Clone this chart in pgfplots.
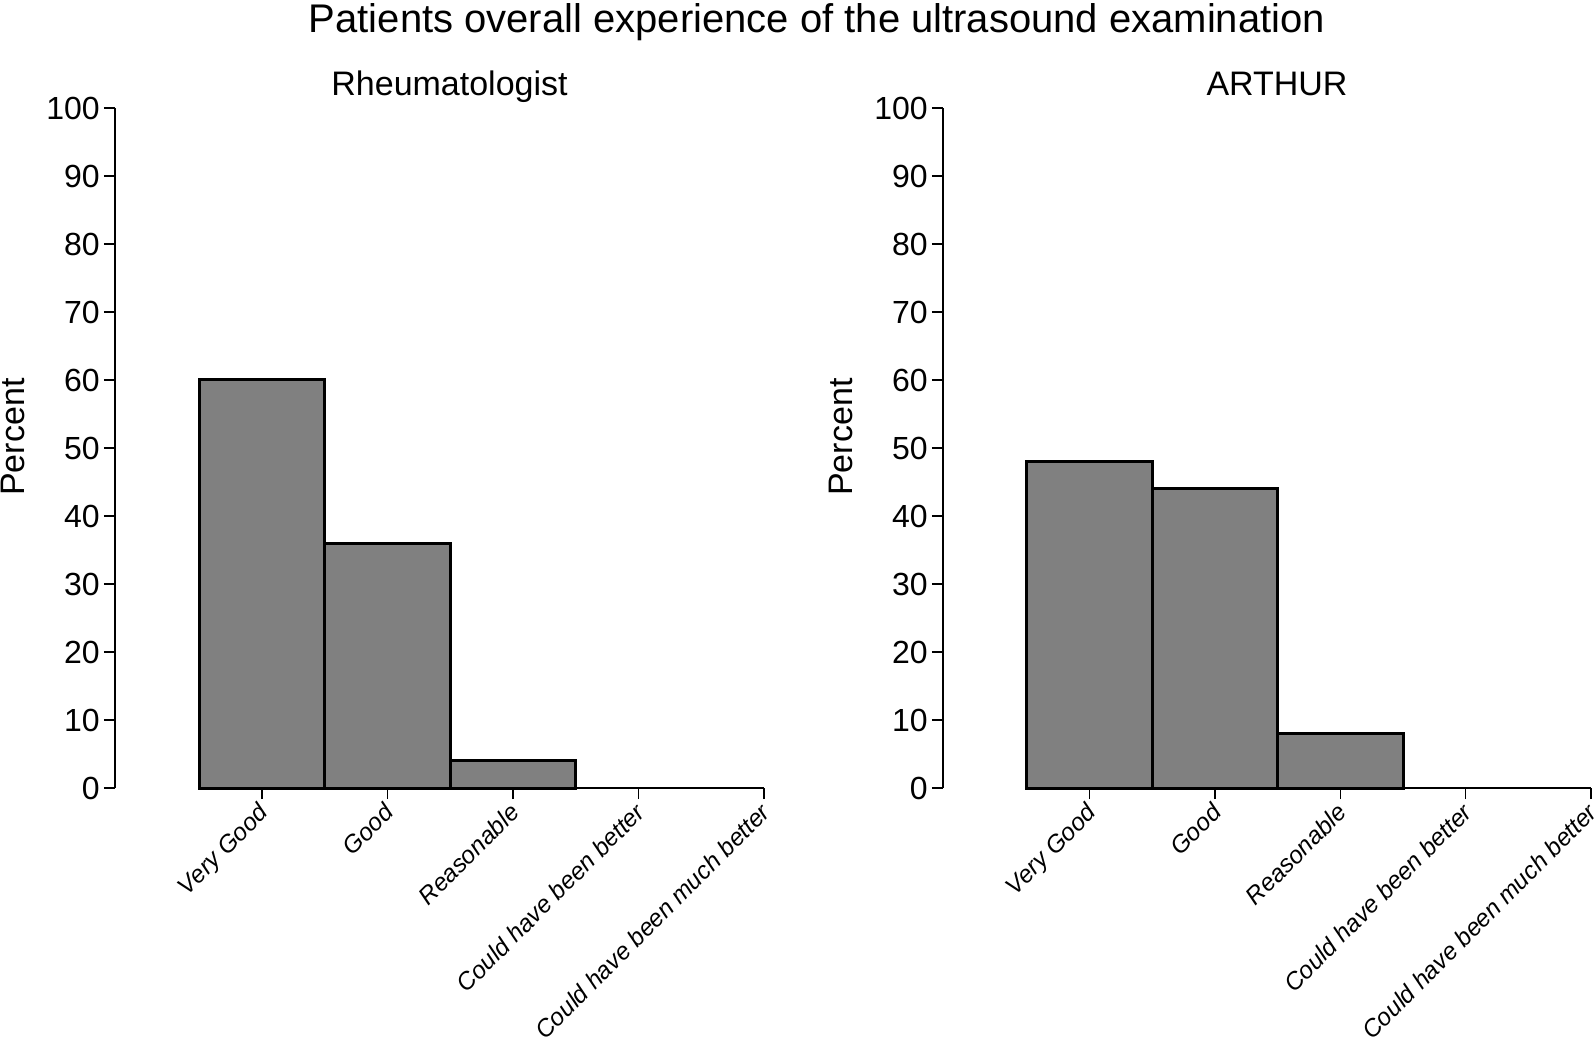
\documentclass[border=0pt]{standalone}
\usepackage{fontspec}
\setmainfont{Liberation Sans}
\usepackage{pgfplots}
\pgfplotsset{compat=1.18}
\definecolor{barfill}{RGB}{128,128,128}
\pgfplotsset{
 every axis title shift=0pt,
 panel/.style={
  scale only axis, width=162.25pt, height=170pt,
  xmin=-1.17, xmax=4, ymin=0, ymax=100,
  axis y line=left, axis x line=bottom,
  axis line style={-, line width=0.4pt},
  x axis line style={draw=none},
  xtick={0,...,4},
  xticklabels={Very Good, Good, Reasonable, Could have been better, Could have been much better},
  ytick={0,10,...,100},
  tick align=outside, major tick length=2.8pt,
  tick style={line width=0.4pt, black},
  /pgf/number format/assume math mode=true,
  yticklabel style={font=\fontsize{8}{9}\selectfont, xshift=2.5pt},
  xticklabel style={font=\fontsize{6.1}{7}\selectfont\itshape, rotate=45, anchor=north east, inner sep=1.5pt, xshift=0.4pt, yshift=2.1pt},
  ylabel={Percent},
  ylabel style={font=\fontsize{8.5}{10}\selectfont, at={(axis description cs:0,0.516)}, anchor=base, yshift=22.6pt},
  title style={font=\fontsize{8.5}{10}\selectfont, at={(axis description cs:0.5,1)}, anchor=base, yshift=3pt, xshift=2.5pt},
  ybar, bar width=1, bar shift=0pt,
  clip=false,
 }
}
\begin{document}
\begin{tikzpicture}
\path[use as bounding box] (-28.75pt,-62.5pt) rectangle (369.75pt,197pt);
\begin{axis}[panel, title={Rheumatologist}, at={(0pt,0pt)}, anchor=south west]
\addplot[fill=barfill, draw=black, line width=0.75pt] coordinates {(0,60) (1,36) (2,4)};
\draw[line width=0.4pt] (axis cs:-0.5,0) -- (axis cs:4,0);
\end{axis}
\begin{axis}[panel, title={ARTHUR}, at={(207pt,0pt)}, anchor=south west, width=162pt]
\addplot[fill=barfill, draw=black, line width=0.75pt] coordinates {(0,48) (1,44) (2,8)};
\draw[line width=0.4pt] (axis cs:-0.5,0) -- (axis cs:4,0);
\end{axis}
\node[font=\fontsize{10}{12}\selectfont, anchor=base] at (175.5pt,188.9pt) {Patients overall experience of the ultrasound examination};
\end{tikzpicture}
\end{document}
